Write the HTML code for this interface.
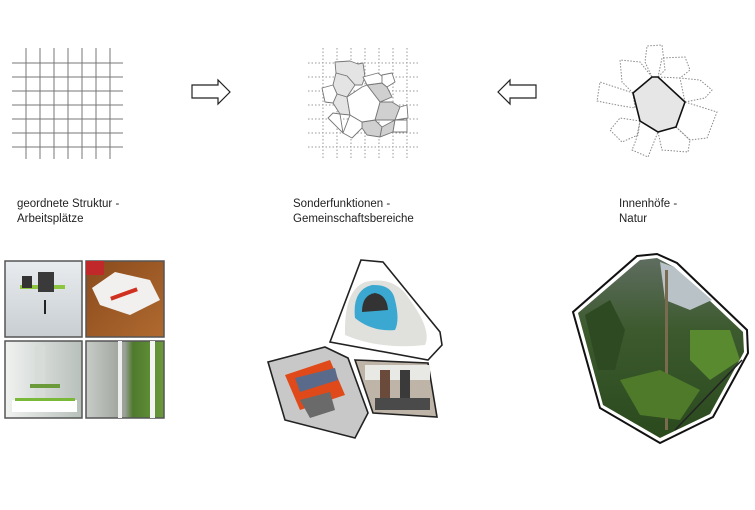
<!DOCTYPE html>
<html><head><meta charset="utf-8"><style>
html,body{margin:0;padding:0;background:#fff;}
svg{display:block;}
text{font-family:"Liberation Sans",sans-serif;font-size:11.5px;fill:#222;}
</style></head><body>
<svg width="755" height="510" viewBox="0 0 755 510" xmlns="http://www.w3.org/2000/svg">
<defs>
<linearGradient id="g1" x1="0" y1="0" x2="0" y2="1"><stop offset="0" stop-color="#e8ecef"/><stop offset="1" stop-color="#c9ced2"/></linearGradient>
<linearGradient id="g2" x1="0" y1="0" x2="1" y2="1"><stop offset="0" stop-color="#8a4a1c"/><stop offset="1" stop-color="#b06a30"/></linearGradient>
<linearGradient id="g3" x1="0" y1="0" x2="1" y2="0"><stop offset="0" stop-color="#f0f2f0"/><stop offset="1" stop-color="#b8c0bc"/></linearGradient>
<linearGradient id="g4" x1="0" y1="0" x2="1" y2="0"><stop offset="0" stop-color="#c8ccc8"/><stop offset="0.5" stop-color="#9aa098"/><stop offset="0.6" stop-color="#4f7a2e"/><stop offset="1" stop-color="#6a9a3a"/></linearGradient>
<linearGradient id="jg" x1="0" y1="0" x2="0" y2="1"><stop offset="0" stop-color="#5f6d60"/><stop offset="0.4" stop-color="#3c5a2e"/><stop offset="1" stop-color="#2a4a1e"/></linearGradient>
</defs>
<g stroke="#777" stroke-width="1">
<line x1="26" y1="48" x2="26" y2="159"/><line x1="40" y1="48" x2="40" y2="159"/><line x1="54" y1="48" x2="54" y2="159"/><line x1="68" y1="48" x2="68" y2="159"/><line x1="82" y1="48" x2="82" y2="159"/><line x1="96" y1="48" x2="96" y2="159"/><line x1="110" y1="48" x2="110" y2="159"/>
<line x1="12" y1="63" x2="123" y2="63"/><line x1="12" y1="77" x2="123" y2="77"/><line x1="12" y1="91" x2="123" y2="91"/><line x1="12" y1="105" x2="123" y2="105"/><line x1="12" y1="119" x2="123" y2="119"/><line x1="12" y1="133" x2="123" y2="133"/><line x1="12" y1="147" x2="123" y2="147"/>
</g>
<polygon points="192,85 218,85 218,80 230,92 218,104 218,98 192,98" fill="#fff" stroke="#222" stroke-width="1.2"/>
<polygon points="536,85 510,85 510,80 498,92 510,104 510,98 536,98" fill="#fff" stroke="#222" stroke-width="1.2"/>
<g stroke="#999" stroke-width="1" stroke-dasharray="1.5,2">
<line x1="323" y1="48" x2="323" y2="160"/><line x1="337" y1="48" x2="337" y2="160"/><line x1="351" y1="48" x2="351" y2="160"/><line x1="365" y1="48" x2="365" y2="160"/><line x1="379" y1="48" x2="379" y2="160"/><line x1="393" y1="48" x2="393" y2="160"/><line x1="407" y1="48" x2="407" y2="160"/>
<line x1="308" y1="63" x2="418" y2="63"/><line x1="308" y1="77" x2="418" y2="77"/><line x1="308" y1="91" x2="418" y2="91"/><line x1="308" y1="105" x2="418" y2="105"/><line x1="308" y1="119" x2="418" y2="119"/><line x1="308" y1="133" x2="418" y2="133"/><line x1="308" y1="147" x2="418" y2="147"/>
</g>
<g stroke="#777" stroke-width="0.9" stroke-linejoin="round">
<polygon fill="#e4e4e4" points="335,62 350,61 358,64 363,63 365,77 362,85 355,85 347,76 336,73"/>
<polygon fill="#e4e4e4" points="336,73 347,76 355,85 347,97 337,94 333,85"/>
<polygon fill="#e4e4e4" points="337,94 347,97 350,115 340,114 333,103"/>
<polygon fill="#d0d0d0" points="367,85 382,83 387,87 392,97 380,102"/>
<polygon fill="#d0d0d0" points="380,102 392,102 400,107 395,120 375,120"/>
<polygon fill="#d0d0d0" points="362,122 375,120 382,127 380,137 367,135 362,128"/>
<polygon fill="#d0d0d0" points="382,127 395,120 393,132 380,137"/>
<polygon fill="#fff" points="322,88 333,85 337,94 333,103 325,102"/>
<polygon fill="#fff" points="363,77 378,73 383,77 382,83 367,85"/>
<polygon fill="#fff" points="382,75 392,73 395,82 387,87 382,83"/>
<polygon fill="#fff" points="400,107 407,105 408,118 395,120"/>
<polygon fill="#fff" points="393,132 395,120 407,120 407,132"/>
<polygon fill="#fff" points="350,115 362,122 362,128 352,138 343,133"/>
<polygon fill="#fff" points="333,113 340,114 343,133 333,123 328,118"/>
<polygon fill="#fff" points="347,97 362,87 367,85 380,102 375,120 362,122 350,115"/>
</g>
<g stroke="#888" stroke-width="1" stroke-dasharray="1.5,1.5" fill="none">
<polygon points="652,77 645,62 647,46 662,45 665,70 658,77"/>
<polygon points="633,93 622,82 620,60 640,62 652,77"/>
<polygon points="633,93 600,82 597,101 617,105 635,108"/>
<polygon points="640,121 620,118 610,130 622,142 638,135"/>
<polygon points="640,121 636,140 632,150 648,157 658,132"/>
<polygon points="658,132 662,150 688,152 690,140 676,127"/>
<polygon points="676,127 690,140 707,138 717,112 685,102"/>
<polygon points="685,102 705,98 712,90 700,80 680,78"/>
<polygon points="658,77 680,78 690,70 685,57 662,58"/>
</g>
<polygon points="633,93 652,77 658,77 685,102 676,127 658,132 640,121" fill="#e6e6e6" stroke="#111" stroke-width="1.6"/>
<text x="17" y="207">geordnete Struktur -</text>
<text x="17" y="222">Arbeitsplätze</text>
<text x="293" y="207">Sonderfunktionen -</text>
<text x="293" y="222">Gemeinschaftsbereiche</text>
<text x="619" y="207">Innenhöfe -</text>
<text x="619" y="222">Natur</text>
<rect x="5" y="261" width="77" height="76" fill="url(#g1)" stroke="#555" stroke-width="1.5"/>
<rect x="20" y="285" width="45" height="4" fill="#8cc63f"/><rect x="38" y="272" width="16" height="20" fill="#3a3a3a"/><rect x="22" y="276" width="10" height="12" fill="#333"/><rect x="44" y="300" width="2" height="14" fill="#222"/>
<rect x="86" y="261" width="78" height="76" fill="url(#g2)" stroke="#555" stroke-width="1.5"/>
<rect x="86" y="261" width="18" height="14" fill="#c0282a"/><polygon points="92,288 115,272 150,280 160,300 130,315 100,305" fill="#f2f0ee"/><rect x="110" y="292" width="28" height="4" fill="#d03020" transform="rotate(-20 124 294)"/>
<rect x="5" y="341" width="77" height="77" fill="url(#g3)" stroke="#555" stroke-width="1.5"/>
<rect x="35" y="345" width="10" height="60" fill="#d8dcd8"/><rect x="12" y="400" width="65" height="12" fill="#fff"/><rect x="15" y="398" width="60" height="3" fill="#7ab83a"/><rect x="30" y="384" width="30" height="4" fill="#6a9a3a"/>
<rect x="86" y="341" width="78" height="77" fill="url(#g4)" stroke="#555" stroke-width="1.5"/>
<rect x="118" y="341" width="4" height="77" fill="#eee"/><rect x="150" y="341" width="5" height="77" fill="#f4f4f4"/>
<polygon points="361,260 383,262 440,332 442,345 428,360 330,342" fill="#fff" stroke="#222" stroke-width="1.6"/>
<path d="M345,330 Q345,290 365,282 Q395,275 410,300 Q432,330 425,345 Q380,350 345,335 Z" fill="#e0e0dc"/>
<path d="M355,318 Q352,290 372,285 Q392,284 395,300 Q400,320 395,330 Q372,332 355,318 Z" fill="#3aa8d0"/>
<path d="M362,312 Q362,295 375,293 Q387,295 388,310 Z" fill="#333"/>
<polygon points="268,362 325,347 348,358 368,413 355,438 285,420" fill="#c8c8c8" stroke="#222" stroke-width="1.6"/>
<path d="M285,375 L330,360 L345,395 L300,410 Z" fill="#e04a1a"/>
<path d="M295,378 L335,368 L338,380 L300,392 Z" fill="#5a6a8a"/>
<path d="M300,400 L330,392 L335,410 L310,418 Z" fill="#6a6a6a"/>
<polygon points="355,360 428,363 437,417 373,413" fill="#bfb4a8" stroke="#222" stroke-width="1.6"/>
<rect x="365" y="365" width="65" height="15" fill="#e8e8e4"/><rect x="380" y="370" width="10" height="35" fill="#6a4a3a"/><rect x="400" y="370" width="10" height="38" fill="#3a3a3a"/><rect x="375" y="398" width="55" height="12" fill="#4a4a4a"/>
<polygon points="637,256 657,254 677,263 747,330 748,353 713,417 660,443 600,408 573,312" fill="#fff" stroke="#111" stroke-width="2"/>
<polygon points="640,260 657,258 674,267 743,332 744,352 710,414 660,438 603,405 578,313" fill="url(#jg)"/>
<polygon points="660,262 674,267 712,300 690,310 665,300" fill="#b9c2c6"/>
<polygon points="585,315 610,300 625,330 615,370 598,370" fill="#2e4a22"/>
<rect x="665" y="270" width="3" height="160" fill="#7a6a50"/>
<polygon points="620,380 660,370 700,390 680,420 640,415" fill="#4e7a2a"/>
<polygon points="690,330 730,330 740,360 710,380 690,360" fill="#5a8a30"/>
<line x1="675" y1="430" x2="742" y2="360" stroke="#222" stroke-width="1.5"/>
</svg>
</body></html>
